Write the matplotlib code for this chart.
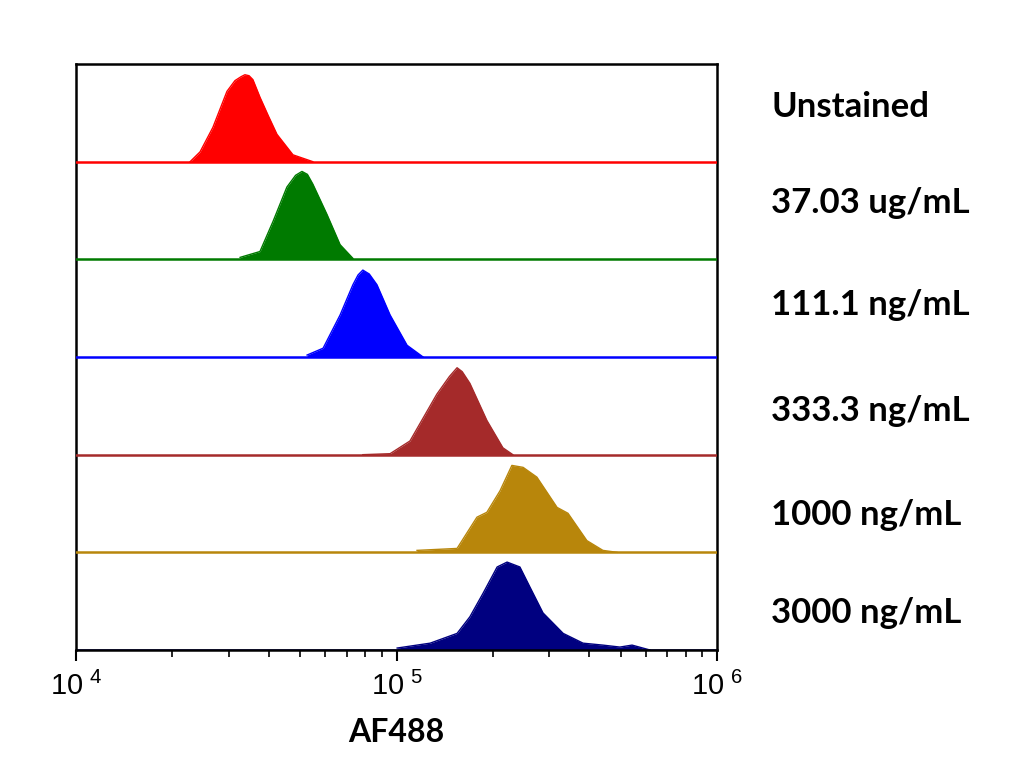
import matplotlib
matplotlib.use("Agg")
import matplotlib.pyplot as plt
import numpy as np
from matplotlib.ticker import LogLocator, NullFormatter, FuncFormatter

labels = ["Unstained", "37.03 ug/mL", "111.1 ng/mL", "333.3 ng/mL", "1000 ng/mL", "3000 ng/mL"]
colors = ["#FF0000", "#007A00", "#0000FF", "#A52A2A", "#B8860B", "#000080"]

# log10(AF488) positions and relative heights (lane units)
red_logx = [4.356, 4.387, 4.427, 4.471, 4.496, 4.515, 4.527, 4.540, 4.552, 4.574, 4.600, 4.627, 4.677, 4.739]
red_h = [0.0, 0.10, 0.35, 0.72, 0.83, 0.87, 0.89, 0.88, 0.84, 0.66, 0.47, 0.28, 0.07, 0.0]

green_logx = [4.512, 4.574, 4.615, 4.658, 4.685, 4.705, 4.722, 4.739, 4.783, 4.824, 4.864]
green_h = [0.02, 0.08, 0.39, 0.74, 0.86, 0.90, 0.87, 0.77, 0.46, 0.15, 0.01]

blue_logx = [4.721, 4.771, 4.824, 4.864, 4.880, 4.895, 4.915, 4.939, 4.980, 5.033, 5.083]
blue_h = [0.02, 0.09, 0.43, 0.74, 0.84, 0.89, 0.85, 0.74, 0.43, 0.12, 0.0]

brown_logx = [4.895, 4.980, 5.042, 5.126, 5.165, 5.189, 5.205, 5.229, 5.282, 5.332, 5.363]
brown_h = [0.0, 0.01, 0.14, 0.62, 0.80, 0.89, 0.85, 0.73, 0.35, 0.07, 0.0]

gold_logx = [5.064, 5.189, 5.251, 5.282, 5.323, 5.360, 5.395, 5.438, 5.501, 5.535, 5.594, 5.644, 5.688]
gold_h = [0.02, 0.04, 0.36, 0.41, 0.63, 0.89, 0.87, 0.77, 0.46, 0.40, 0.12, 0.02, 0.0]

navy_logx = [5.002, 5.105, 5.189, 5.229, 5.270, 5.314, 5.345, 5.385, 5.417, 5.457, 5.520, 5.582, 5.644, 5.697, 5.735, 5.791]
navy_h = [0.02, 0.07, 0.17, 0.34, 0.58, 0.85, 0.90, 0.85, 0.64, 0.38, 0.17, 0.07, 0.05, 0.03, 0.05, 0.0]

series_logx = [red_logx, green_logx, blue_logx, brown_logx, gold_logx, navy_logx]
series_h = [red_h, green_h, blue_h, brown_h, gold_h, navy_h]

fig = plt.figure(figsize=(10.24, 7.78), dpi=100)
ax = fig.add_axes([76/1024, 1 - 650/778, (717-76)/1024, (650-64)/778])

n = len(labels)
for i, (lx, h, c) in enumerate(zip(series_logx, series_h, colors)):
    base = n - 1 - i
    x = 10 ** np.array(lx)
    y = base + np.array(h)
    ax.fill_between(x, base, y, color=c, lw=0)
    ax.plot(x, y, color=c, lw=1)
    ax.axhline(base, color=c, lw=1.8, zorder=3 if i < n - 1 else 1)

ax.set_xscale("log")
ax.set_xlim(1e4, 1e6)
ax.set_ylim(0, n)
ax.set_yticks([])
for s in ax.spines.values():
    s.set_linewidth(1.8)
    s.set_color("black")
ax.xaxis.set_major_locator(LogLocator(base=10, numticks=10))
ax.xaxis.set_minor_locator(LogLocator(base=10, subs=np.arange(2, 10), numticks=100))
ax.xaxis.set_minor_formatter(NullFormatter())
ax.xaxis.set_major_formatter(FuncFormatter(lambda v, p: r"$\mathregular{10^{\ %d}}$" % round(np.log10(v))))
ax.tick_params(axis="x", which="major", direction="out", length=8, width=1.5, labelsize=21, pad=8)
ax.tick_params(axis="x", which="minor", direction="out", length=5, width=1.2)
for t in ax.get_xticklabels():
    t.set_fontfamily(["Liberation Sans"])

ax.set_xlabel("AF488", fontsize=23, fontweight="bold", family=["Lato", "Roboto"], labelpad=12)

label_y = [107, 203, 305, 411, 515, 613]
for lab, yy in zip(labels, label_y):
    fig.text(771/1024, 1 - yy/778, lab, fontsize=25, fontweight="bold",
             family=["Lato", "Roboto"], ha="left", va="center")

fig.savefig("out.png", dpi=100)
